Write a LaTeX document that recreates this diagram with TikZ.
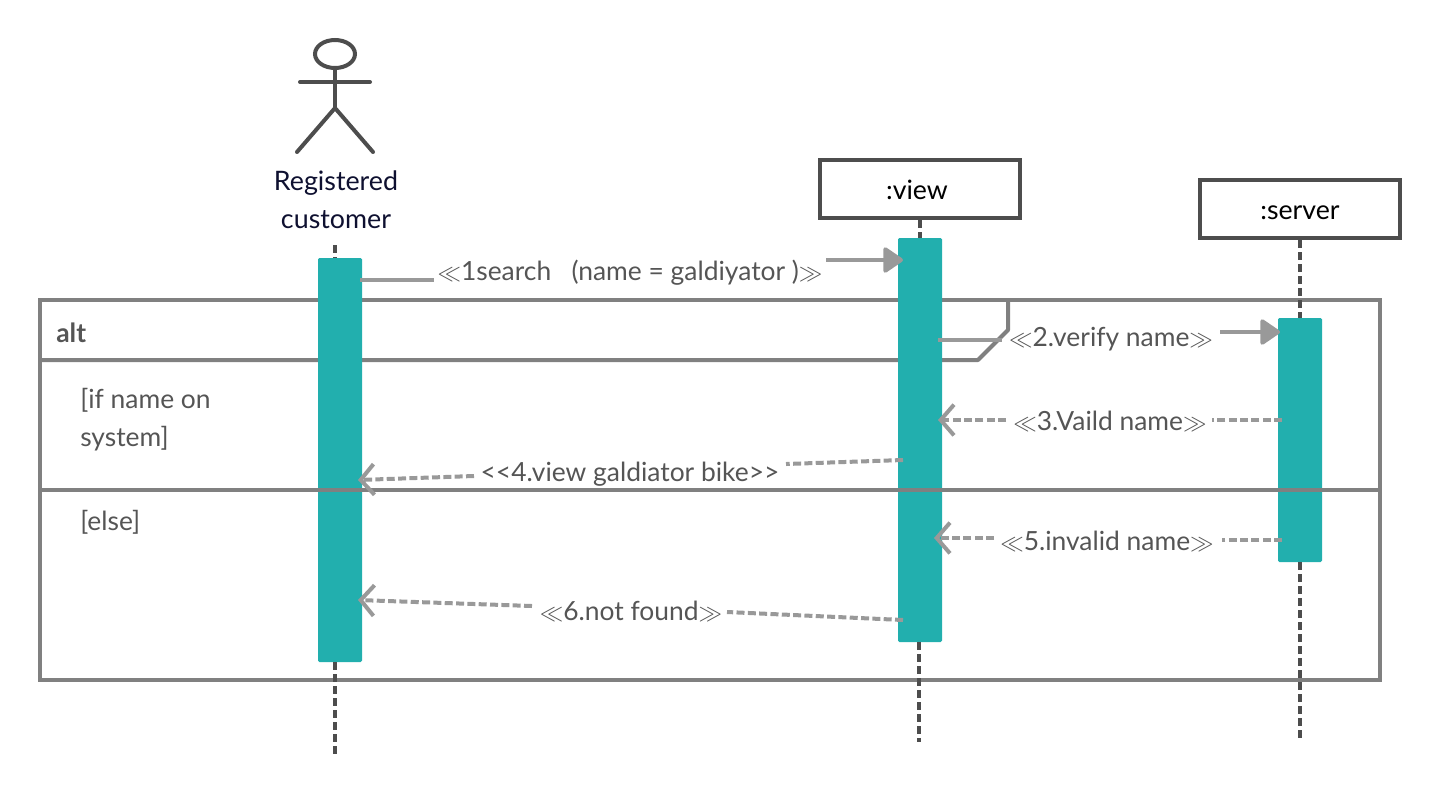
\documentclass[tikz,border=0pt]{standalone}
\usepackage{fontspec}
\setmainfont{Lato}
\usepackage{xcolor}
\usepackage{graphicx}
\usetikzlibrary{arrows.meta, positioning, calc, shapes.geometric}
\definecolor{barteal}{RGB}{34,175,174}
\definecolor{framegray}{RGB}{128,128,128}
\definecolor{msggray}{RGB}{153,153,153}
\definecolor{darkline}{RGB}{77,77,77}
\definecolor{labelgray}{RGB}{85,85,85}
\definecolor{actorink}{RGB}{14,16,48}
\newcommand{\stereo}[1]{\scalebox{0.85}{$\ll$}#1\scalebox{0.85}{$\gg$}}

\begin{document}
\begin{tikzpicture}[
    x=0.75pt, y=-0.75pt,
    font=\fontsize{19.8}{28.5}\selectfont,
    frameline/.style={draw=framegray, line width=3pt},
    lifeline/.style={draw=darkline, line width=3pt, dash pattern=on 6pt off 3pt},
    actorline/.style={draw=darkline, line width=3pt, line cap=round},
    headbox/.style={draw=darkline, line width=3pt, fill=white, minimum width=150pt, minimum height=43.5pt, text height=16pt, text depth=0pt, font=\fontsize{20}{24}\selectfont},
    activebar/.style={fill=barteal, rounded corners=1pt, minimum width=33pt, inner sep=0pt},
    msgtext/.style={text=labelgray, inner sep=0pt},
    msgline/.style={draw=msggray, line width=3pt},
    callmsg/.style={msgline, -{Triangle[length=16pt,width=21pt,round]}},
    returnmsg/.style={msgline, dash pattern=on 6pt off 2.5pt, -{Straight Barb[length=10pt,width=23pt]}},
    returnpart/.style={msgline, dash pattern=on 6pt off 2.5pt},
]
    \useasboundingbox (0,0) rectangle (1441,800);

    % frame
    \node[frameline, minimum width=1005pt, minimum height=285pt] (altframe) at (710,490) {};
    \coordinate (tabstart) at (40,360);
    \coordinate (tabend) at (1008,300);
    \draw[frameline, line join=round] (tabstart) -- (978,360) -- (1008,330) -- (tabend);

    % actor
    \node[draw=darkline, line width=3pt, ellipse, minimum width=30pt, minimum height=21pt, inner sep=0pt] (head) at (335,54) {};
    \coordinate (hip) at (335,108);
    \coordinate (armleft) at (300,82);
    \coordinate (armright) at (370,82);
    \coordinate (footleft) at (297,152);
    \coordinate (footright) at (373,152);
    \draw[actorline] (head.south) -- (hip);
    \draw[actorline] (armleft) -- (armright);
    \draw[actorline] (footleft) -- (hip) -- (footright);
    \node[text=actorink, align=center, inner sep=0pt, font=\fontsize{20.1}{28.5}\selectfont] (custname) at (336,200) {Registered\\customer};

    % lifeline heads
    \node[headbox] (viewhead) at (920,189) {\kern-4.5pt:view};
    \node[headbox] (serverhead) at (1300,209) {:server};

    % activation bars
    \node[activebar, minimum height=303pt] (custbar) at (340,460) {};
    \node[activebar, minimum height=303pt] (viewbar) at (920,440) {};
    \node[activebar, minimum height=183pt] (serverbar) at (1300,440) {};

    % lifelines
    \coordinate (custtop) at (335,245);
    \coordinate (custend) at (335,757);
    \coordinate (viewend) at (919,742);
    \coordinate (serverend) at (1300,738);
    \draw[lifeline] (custtop) -- (custtop |- custbar.north);
    \draw[lifeline] (custtop |- custbar.south) -- (custend);
    \draw[lifeline] (viewhead.south) -- (viewbar.north);
    \draw[lifeline] (viewend |- viewbar.south) -- (viewend);
    \draw[lifeline] (serverhead.south) -- (serverbar.north);
    \draw[lifeline] (serverbar.south) -- (serverend);

    % divider runs over the bars
    \draw[frameline] (altframe.west) -- (altframe.east);

    % frame texts
    \node[text=labelgray, anchor=west, inner sep=0pt, font=\fontsize{19.8}{28.5}\selectfont\bfseries] (altlabel) at (56,333) {alt};
    \node[text=labelgray, anchor=west, align=left, inner sep=0pt] (guardone) at (80,420) {[if name on\\system]};
    \node[text=labelgray, anchor=west, inner sep=0pt] (guardtwo) at (80,522) {[else]};

    % message labels
    \node[msgtext] (msgone) at (630,273) {\stereo{1search\ \ \ (name = galdiyator )}};
    \node[msgtext] (msgtwo) at (1111,339) {\stereo{2.verify name}};
    \node[msgtext] (msgthree) at (1110,421) {\stereo{3.Vaild name}};
    \node[msgtext] (msgfour) at (630,474) {<{}<4.view galdiator bike>{}>};
    \node[msgtext] (msgfive) at (1107,541) {\stereo{5.invalid name}};
    \node[msgtext] (msgsix) at (631,611) {\stereo{6.not found}};

    % message ends
    \coordinate (oneout) at (360,280);
    \coordinate (onein) at (903,260);
    \coordinate (twoout) at (938,340);
    \coordinate (twoin) at (1280,332);
    \coordinate (threeout) at (1282,420);
    \coordinate (threein) at (938,420);
    \coordinate (fourout) at (903,460);
    \coordinate (fourin) at (358,480);
    \coordinate (fiveout) at (1282,540);
    \coordinate (fivein) at (934,538);
    \coordinate (sixout) at (903,620);
    \coordinate (sixin) at (358,600);

    % messages, each one broken by its label
    \draw[msgline] (oneout) -- (434,280);
    \draw[callmsg] (826,260) -- (onein);
    \draw[msgline] (twoout) -- (1002,340);
    \draw[callmsg] (1220,332) -- (twoin);
    \draw[returnpart] (threeout) -- (1212,420);
    \draw[returnmsg] (1006,420) -- (threein);
    \draw[returnpart] (fourout) -- (786,464);
    \draw[returnmsg] (474,476) -- (fourin);
    \draw[returnpart] (fiveout) -- (1222,540);
    \draw[returnmsg] (994,538) -- (fivein);
    \draw[returnpart] (sixout) -- (727,612);
    \draw[returnmsg] (532,606) -- (sixin);
\end{tikzpicture}
\end{document}
